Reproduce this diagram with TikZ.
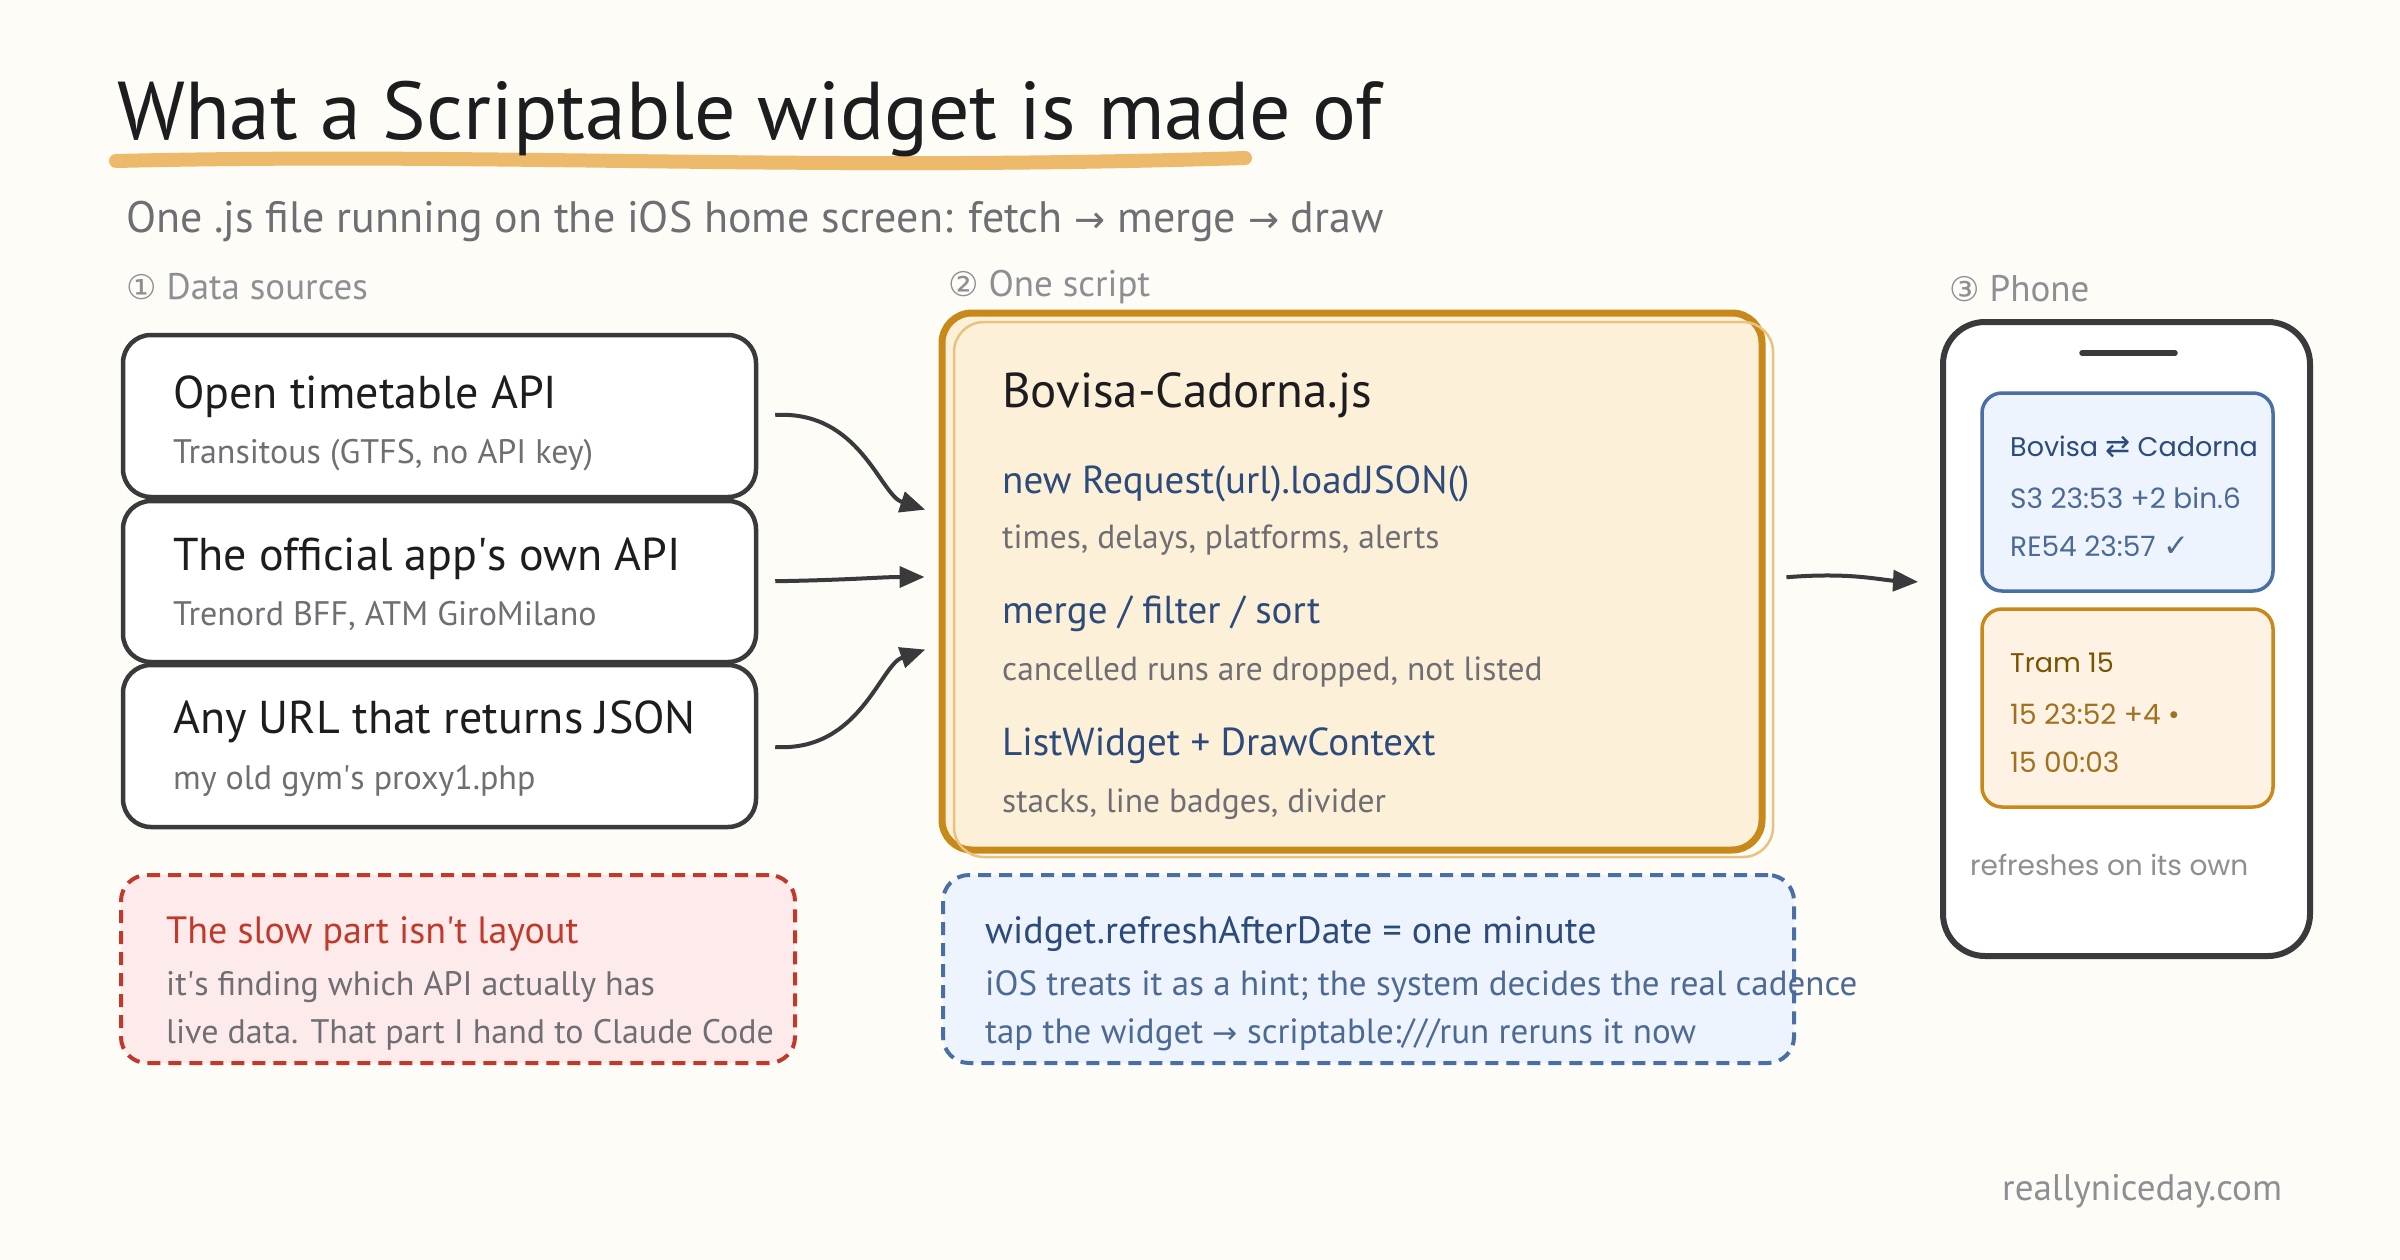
\documentclass[tikz,border=0pt]{standalone}
\usepackage{fontspec}
\setmainfont{PT Sans}
\newfontfamily\pop{Poppins}
\newfontfamily\dv{DejaVu Sans}
\usetikzlibrary{arrows.meta,calc}
\definecolor{bg}{HTML}{FDFCF7}
\definecolor{ink}{HTML}{1D1D1F}
\definecolor{hl}{HTML}{EDB96B}
\definecolor{subg}{HTML}{6E6E73}
\definecolor{labg}{HTML}{8E8E93}
\definecolor{edge}{HTML}{3A3A3C}
\definecolor{scfill}{HTML}{FDF0D9}
\definecolor{scedge}{HTML}{C8891A}
\definecolor{scfaint}{HTML}{E8C27E}
\definecolor{bluet}{HTML}{2C4A7A}
\definecolor{bluel}{HTML}{4D6A94}
\definecolor{bluefill}{HTML}{EEF4FD}
\definecolor{blueedge}{HTML}{4A6FA5}
\definecolor{orfill}{HTML}{FDF2E4}
\definecolor{ortitle}{HTML}{7A5200}
\definecolor{orline}{HTML}{A0711E}
\definecolor{redfill}{HTML}{FDEBEB}
\definecolor{rededge}{HTML}{C0392B}
\newcommand\fs[1]{\fontsize{#1}{#1}\selectfont}
\newcommand\aps{\textquotesingle}
\begin{document}
\begin{tikzpicture}[x=1pt,y=-1pt,
  txt/.style={anchor=base west,inner sep=0pt},
  srcbox/.style={draw=edge,line width=4.5pt,fill=white,rounded corners=28pt,minimum width=633pt},
  conn/.style={draw=edge,line width=4pt,-{Triangle[length=25pt,width=21pt]}},
  card/.style={line width=3.5pt,rounded corners=20pt,minimum width=291pt,minimum height=198pt},
  note/.style={line width=4pt,dash pattern=on 13pt off 8pt,rounded corners=26pt,minimum height=188pt}]
\useasboundingbox (0,0) rectangle (2400,1260);
\fill[bg] (0,0) rectangle (2400,1260);
% title
\draw[hl,line width=14pt,line cap=round] (116,161) .. controls (500,152) and (800,172) .. (1245,158);
\node[txt,font=\fs{82},text=ink] (title) at (117,140) {What a Scriptable widget is made of};
\node[txt,font=\fs{44},text=subg] (subtitle) at (126,232) {One .js file running on the iOS home screen: fetch {\dv\fs{37}→} merge {\dv\fs{37}→} draw};
% section labels
\node[txt,font=\fs{37},text=labg] (lab1) at (126,299) {{\dv\fs{34}①} Data sources};
\node[txt,font=\fs{37},text=labg] (lab2) at (948,296) {{\dv\fs{34}②} One script};
\node[txt,font=\fs{37},text=labg] (lab3) at (1949,301) {{\dv\fs{34}③} Phone};
% source boxes
\node[srcbox,minimum height=162pt] (s1) at (439.5,416) {};
\node[srcbox,minimum height=161pt] (s2) at (439.5,581.5) {};
\node[srcbox,minimum height=162pt] (s3) at (439.5,746) {};
\node[txt,font=\fs{46},text=ink] (s1t) at (173,408) {Open timetable API};
\node[txt,font=\fs{34},text=subg] (s1s) at (173,463) {Transitous (GTFS, no API key)};
\node[txt,font=\fs{46},text=ink] (s2t) at (173,570) {The official app\aps s own API};
\node[txt,font=\fs{34},text=subg] (s2s) at (173,625) {Trenord BFF, ATM GiroMilano};
\node[txt,font=\fs{46},text=ink] (s3t) at (173,733) {Any URL that returns JSON};
\node[txt,font=\fs{34},text=subg] (s3s) at (173,789) {my old gym\aps s proxy1.php};
% script box
\node[fill=scfill,draw=scedge,line width=7pt,rounded corners=30pt,minimum width=820pt,minimum height=537pt] (script) at (1352,581.5) {};
\draw[scfaint,line width=2.5pt,rounded corners=30pt] (954,322) rectangle (1773,857);
\node[txt,font=\fs{49},text=ink] (sct) at (1002,407) {Bovisa-Cadorna.js};
\node[txt,font=\fs{39},text=bluet] (sc1) at (1002,493) {new Request(url).loadJSON()};
\node[txt,font=\fs{33.5},text=subg] (sc1s) at (1002,548) {times, delays, platforms, alerts};
\node[txt,font=\fs{39},text=bluet] (sc2) at (1002,623) {merge / filter / sort};
\node[txt,font=\fs{33.5},text=subg] (sc2s) at (1002,680) {cancelled runs are dropped, not listed};
\node[txt,font=\fs{39},text=bluet] (sc3) at (1002,755) {ListWidget + DrawContext};
\node[txt,font=\fs{33.5},text=subg] (sc3s) at (1002,812) {stacks, line badges, divider};
% phone
\node[draw=edge,fill=white,line width=6pt,rounded corners=42pt,minimum width=367pt,minimum height=634pt] (phone) at (2126.5,639) {};
\draw[edge,line width=5.5pt,line cap=round] (2082,353) -- (2175,353);
\node[card,draw=blueedge,fill=bluefill] (bcard) at (2127.5,492) {};
\node[card,draw=scedge,fill=orfill] (ocard) at (2127.5,708) {};
\node[txt,font=\pop\fs{27},text=bluet] (b1) at (2010,456) {Bovisa {\dv\fs{30}⇄} Cadorna};
\node[txt,font=\pop\fs{28},text=bluel] (b2) at (2010,508) {S3 23:53 +2 bin.6};
\node[txt,font=\pop\fs{28},text=bluel] (b3) at (2010,556) {RE54 23:57 {\dv\fs{31}✓}};
\node[txt,font=\pop\fs{27},text=ortitle] (o1) at (2010,672) {Tram 15};
\node[txt,font=\pop\fs{28},text=orline] (o2) at (2010,724) {15 23:52 +4 •};
\node[txt,font=\pop\fs{28},text=orline] (o3) at (2010,772) {15 00:03};
\node[txt,font=\pop\fs{28},text=labg] (ph) at (1970,875) {refreshes on its own};
% connectors
\draw[conn,shorten <=17pt,shorten >=14pt] (s1.east) .. controls (860,410) and (880,495) .. ([yshift=67.5pt]script.west);
\draw[conn,shorten <=17pt,shorten >=14pt] (s2.east) .. controls (850,580) and (880,577) .. ([yshift=4.5pt]script.west);
\draw[conn,shorten <=17pt,shorten >=14pt] (s3.east) .. controls (860,752) and (880,665) .. ([yshift=-63.5pt]script.west);
\draw[conn,shorten <=21pt,shorten >=22pt] ([yshift=2.5pt]script.east) .. controls (1850,572) and (1880,580) .. ([yshift=56pt]phone.west);
% notes
\node[note,draw=rededge,fill=redfill,minimum width=674pt] (red) at (458,969) {};
\node[txt,font=\fs{38},text=rededge] (r1) at (166,943) {The slow part isn\aps t layout};
\node[txt,font=\fs{34},text=subg] (r2) at (166,995) {it\aps s finding which API actually has};
\node[txt,font=\fs{34},text=subg] (r3) at (166,1043) {live data. That part I hand to Claude Code};
\node[note,draw=blueedge,fill=bluefill,minimum width=851pt] (blue) at (1368.5,969) {};
\node[txt,font=\fs{38},text=bluet] (u1) at (985,943) {widget.refreshAfterDate = one minute};
\node[txt,font=\fs{35},text=bluel] (u2) at (985,995) {iOS treats it as a hint; the system decides the real cadence};
\node[txt,font=\fs{35},text=bluel] (u3) at (985,1043) {tap the widget {\dv\fs{30}→} scriptable:///run reruns it now};
\node[txt,font=\fs{37},text=labg] (site) at (2002,1200) {reallyniceday.com};
\end{tikzpicture}
\end{document}
